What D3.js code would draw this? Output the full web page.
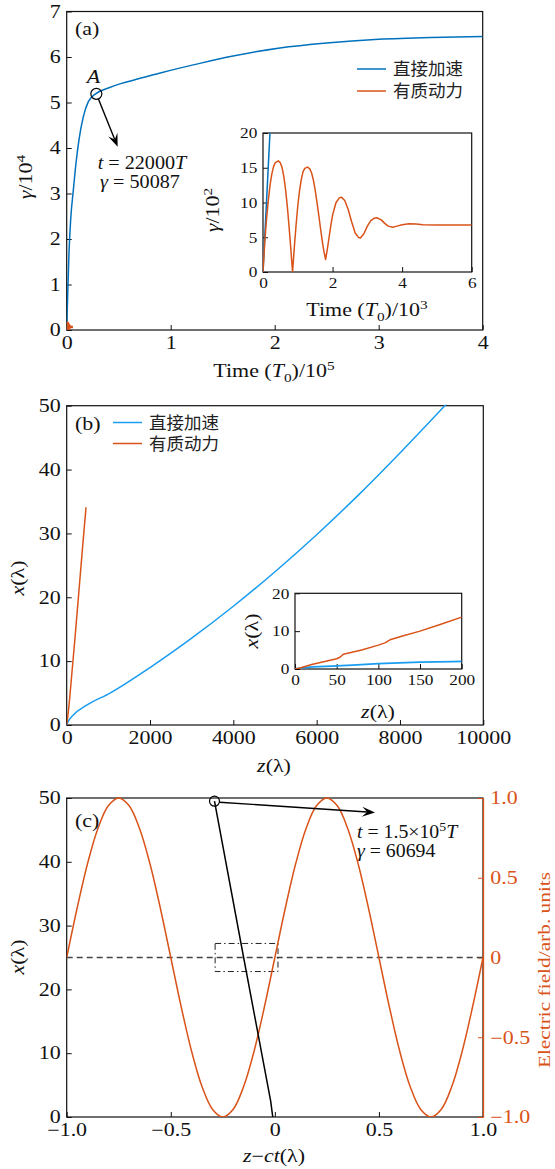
<!DOCTYPE html>
<html>
<head>
<meta charset="utf-8">
<script src="https://cdn.jsdelivr.net/npm/d3@7/dist/d3.min.js"></script>
<style>
  body { margin: 0; background: #fff; }
  svg { display: block; }
</style>
</head>
<body>
<div id="chart"></div>
<script>
// ---- data ----
// (a) gamma/1e4 vs time/1e5, direct acceleration
const aTime  = [0, 0.01, 0.022, 0.038, 0.064, 0.089, 0.118, 0.16, 0.208, 0.278, 0.4, 0.527, 0.64, 0.9, 1.28, 1.6, 2.05, 2.5, 3.0, 3.5, 4.0];
const aGamma = [0, 0.8, 1.69, 2.42, 3.08, 3.66, 4.18, 4.69, 5.02, 5.19, 5.32, 5.42, 5.49, 5.65, 5.86, 6.02, 6.2, 6.31, 6.39, 6.43, 6.45];
// (a) inset: ponderomotive gamma/1e2 vs time/1e3
const insTime = [0, 0.05, 0.1, 0.15, 0.2, 0.25, 0.3, 0.35, 0.44, 0.5, 0.55, 0.6, 0.65, 0.7, 0.75, 0.8, 0.85,
  0.9, 0.95, 1.0, 1.05, 1.1, 1.15, 1.2, 1.28, 1.35, 1.4, 1.45, 1.5, 1.55, 1.6, 1.65, 1.7, 1.75, 1.8,
  1.85, 1.9, 1.95, 2.0, 2.1, 2.2, 2.26, 2.35, 2.45, 2.55, 2.65, 2.75, 2.8, 2.9, 3.0, 3.1, 3.2, 3.27,
  3.4, 3.5, 3.6, 3.73, 3.85, 4.0, 4.2, 4.4, 4.6, 5.0, 6.0];
const insGamma = [0, 4.2, 7.5, 10.2, 12.4, 14.0, 15.1, 15.7, 16.0, 15.7, 15.0, 13.7, 11.8, 9.4, 6.5, 3.3, 0,
  3.5, 6.7, 9.5, 11.7, 13.3, 14.4, 14.9, 15.1, 14.8, 14.2, 13.2, 11.8, 10.1, 8.3, 6.4, 4.6, 3.0, 1.8,
  3.3, 5.0, 6.7, 8.2, 10.0, 10.7, 10.75, 10.3, 9.0, 7.2, 5.6, 4.95, 4.9, 5.5, 6.6, 7.4, 7.75, 7.8,
  7.5, 7.0, 6.6, 6.45, 6.6, 6.8, 6.95, 6.9, 6.8, 6.75, 6.75];
const insDirectTime = [0, 0.2];
const insDirectGamma = [0, 20];

// (b) transverse x vs longitudinal z
const bZDirect = [0, 40, 160, 480, 1040, 2000, 3000, 4000, 5000, 6000, 7000, 8000, 9120];
const bXDirect = [0, 0.6, 1.57, 3.1, 5.0, 9.0, 13.6, 18.6, 24.0, 29.8, 36.0, 42.6, 50.3];
const bZPond = [0, 50, 100, 200, 300, 400, 464];
const bXPond = [0, 2.7, 6.3, 13.7, 21.5, 29.3, 34.1];
// (b) inset
const biZPond = [0, 5, 20, 50, 54, 58, 80, 100, 108, 115, 130, 150, 175, 200];
const biXPond = [0, 0.2, 1.2, 2.7, 3.1, 3.9, 5.0, 6.3, 6.9, 7.8, 8.8, 10.0, 11.8, 13.7];
const biZDirect = [0, 10, 50, 100, 150, 200];
const biXDirect = [0, 0.35, 0.8, 1.4, 1.8, 2.0];

// (c) field and electron trajectory
const cZ = [-1, -0.95, -0.9, -0.85, -0.8, -0.75, -0.7, -0.65, -0.6, -0.55, -0.5, -0.45, -0.4, -0.35, -0.3, -0.25,
  -0.2, -0.15, -0.1, -0.05, 0, 0.05, 0.1, 0.15, 0.2, 0.25, 0.3, 0.35, 0.4, 0.45, 0.5, 0.55, 0.6, 0.65, 0.7, 0.75,
  0.8, 0.85, 0.9, 0.95, 1];
const cField = [0, 0.309, 0.588, 0.809, 0.951, 1, 0.951, 0.809, 0.588, 0.309, 0, -0.309, -0.588, -0.809, -0.951, -1,
  -0.951, -0.809, -0.588, -0.309, 0, 0.309, 0.588, 0.809, 0.951, 1, 0.951, 0.809, 0.588, 0.309, 0, -0.309, -0.588,
  -0.809, -0.951, -1, -0.951, -0.809, -0.588, -0.309, 0];
const cTrajZ = [-0.29, -0.15, -0.02, -0.01];
const cTrajX = [49.5, 25, 2.5, 0];

const legendLabels = ["直接加速", "有质动力"];
const cBottomTicks = [-1, -0.5, 0, 0.5, 1];
const cBottomLabels = ["\u22121.0", "\u22120.5", "0", "0.5", "1.0"];
const cRightTicks = [-1, -0.5, 0, 0.5, 1];
const cRightLabels = ["\u22121.0", "\u22120.5", "0", "0.5", "1.0"];

// ---- drawing ----
const W = 555, H = 1169;
const SERIF = "'Liberation Serif', 'Times New Roman', serif";
const CJK = "'Noto Sans CJK SC', sans-serif";
const BLUE = "#0072BD", BLUE2 = "#1a9cf0", ORANGE = "#D95319";
const SX = 1.22;   // glyphs in the figure are wider than Times

const svg = d3.select("#chart").append("svg")
    .attr("width", W).attr("height", H)
    .style("font-family", SERIF);
svg.append("rect").attr("width", W).attr("height", H).attr("fill", "#fff");

// text with italic / sub / sup pieces
function rich(sel, parts, size) {
  let shift = 0;
  parts.forEach(p => {
    const t = typeof p === "string" ? p : p[0];
    const k = typeof p === "string" ? "" : p[1];
    let target = 0, fs = size;
    if (k === "sup") { target = -0.4 * size; fs = size * 0.7; }
    if (k === "sub") { target = 0.25 * size; fs = size * 0.7; }
    const ts = sel.append("tspan").text(t).attr("font-size", fs);
    if (target - shift !== 0) ts.attr("dy", target - shift);
    if (k === "i") ts.attr("font-style", "italic");
    shift = target;
  });
  return sel;
}

function label(x, y, parts, size, opts = {}) {
  const sx = opts.sx || SX;
  const g = svg.append("g")
      .attr("transform", `translate(${x},${y})` + (opts.rotate ? " rotate(-90)" : "") + ` scale(${sx},1)`);
  const t = g.append("text")
      .attr("text-anchor", opts.anchor || "middle")
      .attr("fill", opts.color || "#111")
      .attr("font-size", size);
  rich(t, parts, size);
  return t;
}

let clipId = 0;
function frame(x, y, size, opts) {
  const sx = opts.sx || SX;
  const g = svg.append("g");
  const [x0, x1] = x.range(), [y0, y1] = y.range();
  if (opts.fill) g.append("rect").attr("x", x0).attr("y", y1).attr("width", x1 - x0).attr("height", y0 - y1).attr("fill", "#fff");
  const id = "clip" + (clipId++);
  svg.append("clipPath").attr("id", id).append("rect")
      .attr("x", x0).attr("y", y1 - 1).attr("width", x1 - x0).attr("height", y0 - y1 + 1);
  const xa = d3.axisBottom(x).tickValues(opts.xt).tickSizeInner(-5).tickSizeOuter(0).tickPadding(opts.xpad || 5)
      .tickFormat(opts.xl ? (d, i) => opts.xl[i] : d3.format("d"));
  const ya = d3.axisLeft(y).tickValues(opts.yt).tickSizeInner(-5).tickSizeOuter(0).tickPadding(5)
      .tickFormat(d3.format("d"));
  const gx = g.append("g").attr("transform", `translate(0,${y0})`).call(xa);
  const gy = g.append("g").attr("transform", `translate(${x0},0)`).call(ya);
  [gx, gy].forEach(a => {
    a.select(".domain").remove();
    a.selectAll("text").attr("font-size", size).attr("font-family", SERIF).attr("fill", "#111")
        .attr("transform", `scale(${sx},1)`);
    a.selectAll("line").attr("stroke", "#111");
  });
  gx.selectAll("text").attr("dy", "0.8em");
  g.append("rect").attr("x", x0).attr("y", y1).attr("width", x1 - x0).attr("height", y0 - y1)
      .attr("fill", "none").attr("stroke", "#111").attr("stroke-width", 1.2);
  return { g, clip: `url(#${id})` };
}

function series(clip, x, y, xs, ys, color, width = 1.5, curve = d3.curveLinear) {
  const pts = xs.map((d, i) => [x(d), y(ys[i])]);
  svg.append("path").attr("d", d3.line().curve(curve)(pts)).attr("clip-path", clip)
      .attr("fill", "none").attr("stroke", color).attr("stroke-width", width)
      .attr("stroke-linejoin", "round");
}

function arrow(x1, y1, x2, y2) {
  const a = Math.atan2(y2 - y1, x2 - x1), L = 13, w = 5;
  svg.append("line").attr("x1", x1).attr("y1", y1)
      .attr("x2", x2 - Math.cos(a) * L * 0.6).attr("y2", y2 - Math.sin(a) * L * 0.6)
      .attr("stroke", "#000").attr("stroke-width", 1.4);
  const p = [[x2, y2],
    [x2 - L * Math.cos(a) + w * Math.sin(a), y2 - L * Math.sin(a) - w * Math.cos(a)],
    [x2 - 0.6 * L * Math.cos(a), y2 - 0.6 * L * Math.sin(a)],
    [x2 - L * Math.cos(a) - w * Math.sin(a), y2 - L * Math.sin(a) + w * Math.cos(a)]];
  svg.append("path").attr("d", "M" + p.join("L") + "Z").attr("fill", "#000");
}

function legend(x, y, gap, colors) {
  legendLabels.forEach((t, i) => {
    const ly = y + i * gap;
    svg.append("line").attr("x1", x).attr("x2", x + 29).attr("y1", ly).attr("y2", ly)
        .attr("stroke", colors[i]).attr("stroke-width", 1.5);
    svg.append("text").attr("x", x + 36).attr("y", ly + 6).attr("font-family", CJK)
        .attr("font-size", 17.5).attr("fill", "#222").text(t);
  });
}

// ===== panel (a) =====
const xA = d3.scaleLinear().domain([0, 4]).range([66.7, 482.7]);
const yA = d3.scaleLinear().domain([0, 7]).range([330, 11.5]);
const fa = frame(xA, yA, 18, { xt: [0, 1, 2, 3, 4], yt: [0, 1, 2, 3, 4, 5, 6, 7] });
series(fa.clip, xA, yA, aTime, aGamma, BLUE, 1.5, d3.curveMonotoneX);
series(fa.clip, xA, yA, insTime.map(d => d / 100), insGamma.map(d => d / 100), ORANGE, 2.5);
label(274, 377, ["Time (", ["T", "i"], ["0", "sub"], ")/10", ["5", "sup"]], 18);
label(32, 177, [["γ", "i"], "/10", ["4", "sup"]], 18, { rotate: true });
label(75, 35, ["(a)"], 18, { anchor: "start" });

// point A
const ax = 0.285, ay = 5.19;
svg.append("circle").attr("cx", xA(ax)).attr("cy", yA(ay)).attr("r", 5.5)
    .attr("fill", "none").attr("stroke", "#000").attr("stroke-width", 1.2);
label(xA(ax) - 3, yA(ay) - 11, [["A", "i"]], 18);
arrow(xA(ax) + 2, yA(ay) + 5, xA(0.49), yA(4.03));
label(142, 169, [["t", "i"], " = 22000", ["T", "i"]], 18, { sx: 1.12 });
label(140, 188, [["γ", "i"], " = 50087"], 18, { sx: 1.12 });

legend(357, 69, 22, [BLUE, ORANGE]);

// inset (a)
const xAi = d3.scaleLinear().domain([0, 6]).range([263, 471.7]);
const yAi = d3.scaleLinear().domain([0, 20]).range([272, 133]);
const fai = frame(xAi, yAi, 15, { xt: [0, 2, 4, 6], yt: [0, 5, 10, 15, 20], fill: true, sx: 1.15, xpad: 4 });
series(fai.clip, xAi, yAi, insDirectTime, insDirectGamma, BLUE);
series(fai.clip, xAi, yAi, insTime, insGamma, ORANGE);
label(367, 316, ["Time (", ["T", "i"], ["0", "sub"], ")/10", ["3", "sup"]], 18);
label(219, 210, [["γ", "i"], "/10", ["2", "sup"]], 18, { rotate: true });

// ===== panel (b) =====
const xB = d3.scaleLinear().domain([0, 10000]).range([66.7, 483.3]);
const yB = d3.scaleLinear().domain([0, 50]).range([725, 405.7]);
const fb = frame(xB, yB, 18, { xt: [0, 2000, 4000, 6000, 8000, 10000], yt: [0, 10, 20, 30, 40, 50] });
series(fb.clip, xB, yB, bZDirect, bXDirect, BLUE2, 1.5, d3.curveMonotoneX);
series(fb.clip, xB, yB, bZPond, bXPond, ORANGE, 1.5, d3.curveMonotoneX);
label(274, 772, [["z", "i"], "(λ)"], 18);
label(24, 578, [["x", "i"], "(λ)"], 18, { rotate: true });
label(75, 430, ["(b)"], 18, { anchor: "start" });
legend(113, 422.5, 21, [BLUE2, ORANGE]);

// inset (b)
const xBi = d3.scaleLinear().domain([0, 200]).range([295, 461.7]);
const yBi = d3.scaleLinear().domain([0, 20]).range([669, 593.3]);
const fbi = frame(xBi, yBi, 15, { xt: [0, 50, 100, 150, 200], yt: [0, 10, 20], fill: true, sx: 1.15, xpad: 4 });
series(fbi.clip, xBi, yBi, biZDirect, biXDirect, BLUE2, 1.8, d3.curveMonotoneX);
series(fbi.clip, xBi, yBi, biZPond, biXPond, ORANGE);
label(378, 718, [["z", "i"], "(λ)"], 18);
label(258, 631, [["x", "i"], "(λ)"], 18, { rotate: true });

// ===== panel (c) =====
const xC = d3.scaleLinear().domain([-1, 1]).range([66.7, 483]);
const yC = d3.scaleLinear().domain([0, 50]).range([1117, 798]);
const yCr = d3.scaleLinear().domain([-1, 1]).range([1117, 798]);
const fc = frame(xC, yC, 18, { xt: cBottomTicks, xl: cBottomLabels, yt: [0, 10, 20, 30, 40, 50] });
// right orange axis
const gr = svg.append("g").attr("transform", `translate(${xC.range()[1]},0)`)
    .call(d3.axisRight(yCr).tickValues(cRightTicks).tickFormat((d, i) => cRightLabels[i])
      .tickSizeInner(-5).tickSizeOuter(0).tickPadding(6));
gr.select(".domain").attr("stroke", ORANGE).attr("stroke-width", 1.3);
gr.selectAll("line").attr("stroke", ORANGE);
gr.selectAll("text").attr("font-size", 18).attr("font-family", SERIF).attr("fill", ORANGE)
    .attr("transform", `scale(${SX},1)`);

// dashed centre line
svg.append("line").attr("x1", xC(-1)).attr("x2", xC(1)).attr("y1", yC(25)).attr("y2", yC(25))
    .attr("stroke", "#444").attr("stroke-width", 1.5).attr("stroke-dasharray", "6,4");
// dash-dot box
svg.append("rect").attr("x", xC(-0.287)).attr("y", yC(27.2))
    .attr("width", xC(0.015) - xC(-0.287)).attr("height", yC(22.8) - yC(27.2))
    .attr("fill", "none").attr("stroke", "#222").attr("stroke-width", 1)
    .attr("stroke-dasharray", "6,3,1.5,3");

series(fc.clip, xC, yCr, cZ, cField, ORANGE, 1.5, d3.curveCatmullRom);
series(fc.clip, xC, yC, cTrajZ, cTrajX, "#000", 1.5);

svg.append("circle").attr("cx", xC(-0.29)).attr("cy", yC(49.5)).attr("r", 5)
    .attr("fill", "none").attr("stroke", "#000").attr("stroke-width", 1.2);
arrow(xC(-0.29) + 5, yC(49.5) + 1, 375, 812.5);
label(357, 838, [["t", "i"], " = 1.5×10", ["5", "sup"], ["T", "i"]], 18, { anchor: "start", sx: 1.1 });
label(357, 857, [["γ", "i"], " = 60694"], 18, { anchor: "start", sx: 1.1 });

label(75, 827, ["(c)"], 18, { anchor: "start" });
label(274, 1162, [["z", "i"], "−", ["ct", "i"], "(λ)"], 18);
label(24, 957, [["x", "i"], "(λ)"], 18, { rotate: true });
label(550, 970, ["Electric field/arb. units"], 17.5, { rotate: true, color: ORANGE });
</script>
</body>
</html>
